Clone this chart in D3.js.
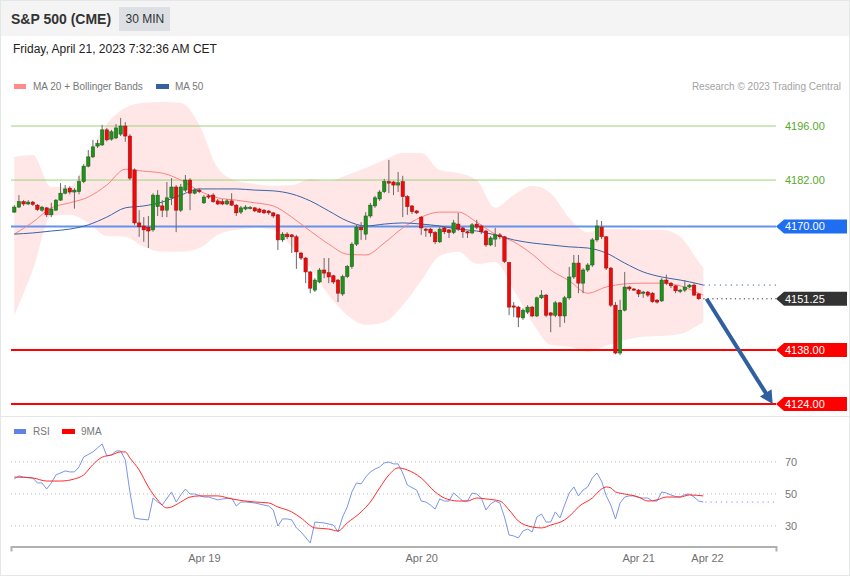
<!DOCTYPE html>
<html><head><meta charset="utf-8">
<script src="https://cdn.jsdelivr.net/npm/d3@7"></script>
<style>
html,body{margin:0;padding:0;background:#fff;}
svg{display:block;font-family:"Liberation Sans",Arial,sans-serif;}
</style></head><body>
<svg id="chart" width="850" height="576"></svg>
<script>
// ---------- DATA ----------
const title = "S&P 500 (CME)";
const interval = "30 MIN";
const dateText = "Friday, April 21, 2023 7:32:36 AM CET";
const copyright = "Research \u00A9 2023 Trading Central";

// 30-min candles (index 0..148)
const open  = [4173.7,4175.0,4176.4,4175.8,4176.3,4175.5,4174.2,4174.8,4173.0,4174.2,
 4176.8,4178.6,4179.9,4178.9,4179.0,4181.6,4185.6,4188.0,4190.8,4191.1,
 4195.0,4192.6,4192.9,4193.9,4196.0,4193.4,4184.6,4170.9,4170.1,4169.8,
 4169.1,4175.1,4175.3,4174.2,4177.4,4180.2,4174.2,4179.4,4182.0,4178.6,
 4179.4,4176.1,4177.9,4178.1,4176.6,4176.4,4175.8,4176.6,4175.5,4173.7,
 4174.5,4174.8,4174.8,4174.5,4174.2,4174.0,4173.5,4173.0,4166.5,4168.0,
 4167.8,4167.3,4163.1,4161.8,4158.2,4153.5,4155.6,4158.7,4158.0,4157.2,
 4156.1,4152.5,4157.0,4159.6,4165.4,4169.8,4168.0,4172.7,4175.3,4177.1,
 4179.0,4181.6,4181.5,4180.7,4181.6,4177.7,4175.3,4174.0,4172.4,4169.3,
 4169.3,4168.4,4166.0,4169.6,4169.1,4168.4,4170.6,4169.6,4168.6,4168.3,
 4170.6,4170.1,4168.8,4165.2,4166.7,4167.8,4167.3,4160.6,4149.4,4149.1,
 4146.3,4147.8,4149.1,4146.8,4151.5,4152.2,4147.6,4147.0,4150.2,4146.8,
 4151.5,4156.9,4160.5,4155.3,4158.7,4160.0,4166.5,4169.8,4167.3,4159.2,
 4149.6,4137.2,4148.3,4154.3,4153.8,4153.5,4152.7,4153.0,4152.7,4150.9,
 4150.7,4156.1,4155.3,4154.6,4153.3,4153.5,4154.3,4154.8,4152.5];
const high  = [4175.5,4178.1,4176.8,4176.8,4176.6,4175.8,4175.3,4175.0,4176.1,4177.1,
 4181.2,4180.7,4180.4,4179.9,4183.1,4186.1,4189.8,4192.4,4192.4,4196.3,
 4195.5,4195.0,4196.5,4198.1,4197.0,4193.9,4185.0,4174.2,4172.4,4172.7,
 4178.6,4179.4,4176.8,4181.5,4182.5,4180.7,4181.0,4183.3,4182.5,4179.9,
 4179.9,4178.1,4178.4,4178.6,4177.1,4177.1,4177.1,4178.6,4175.8,4175.3,
 4175.5,4175.3,4175.0,4174.8,4174.5,4174.2,4173.7,4173.2,4168.5,4168.5,
 4168.0,4167.8,4163.4,4162.1,4158.5,4156.6,4159.2,4161.8,4161.8,4157.5,
 4156.4,4157.5,4160.0,4165.9,4170.4,4171.1,4173.7,4176.1,4177.9,4179.4,
 4182.3,4187.2,4181.8,4184.1,4183.1,4178.1,4175.5,4174.2,4172.7,4169.6,
 4169.6,4168.8,4169.8,4170.1,4169.3,4171.7,4173.5,4169.8,4168.8,4170.9,
 4171.7,4170.4,4169.1,4167.5,4169.6,4168.3,4167.5,4160.8,4150.4,4149.4,
 4148.8,4149.6,4149.4,4151.8,4153.5,4152.5,4147.8,4150.7,4150.4,4152.0,
 4159.5,4162.6,4162.6,4159.2,4160.5,4167.0,4171.7,4171.4,4167.5,4159.5,
 4150.4,4151.0,4158.2,4154.6,4154.0,4153.8,4153.3,4153.3,4153.0,4151.2,
 4156.6,4157.5,4155.6,4154.8,4153.8,4156.1,4155.1,4155.3,4152.7];
const low   = [4173.5,4174.8,4175.3,4175.5,4175.3,4174.0,4173.8,4172.4,4172.4,4174.0,
 4176.6,4178.3,4178.3,4174.6,4178.3,4181.2,4185.3,4187.7,4190.3,4190.8,
 4192.0,4192.2,4192.6,4193.4,4191.9,4182.0,4170.4,4167.3,4166.0,4164.4,
 4168.6,4172.7,4172.4,4172.4,4175.5,4168.5,4173.7,4178.9,4174.2,4178.3,
 4178.6,4175.8,4177.1,4176.1,4175.5,4175.5,4175.5,4175.3,4172.7,4173.2,
 4174.2,4174.4,4173.7,4173.5,4173.2,4173.0,4172.2,4163.9,4166.0,4166.7,
 4163.1,4159.0,4161.3,4155.3,4152.7,4153.0,4155.3,4156.6,4155.3,4155.1,
 4150.4,4152.0,4156.6,4159.0,4164.9,4166.5,4166.5,4172.2,4174.8,4176.6,
 4178.6,4178.6,4178.1,4178.9,4172.4,4173.0,4173.2,4173.2,4167.8,4167.3,
 4167.3,4165.4,4165.7,4168.0,4167.0,4168.0,4168.8,4167.0,4167.0,4168.0,
 4169.3,4168.0,4164.7,4164.9,4164.7,4166.7,4160.5,4147.0,4146.5,4143.9,
 4145.8,4147.3,4146.5,4146.5,4151.2,4146.5,4142.6,4146.5,4143.9,4145.0,
 4151.0,4156.4,4152.7,4152.7,4158.2,4159.5,4166.0,4166.7,4158.7,4149.1,
 4136.9,4136.7,4148.0,4153.3,4153.3,4151.7,4151.5,4151.7,4150.2,4150.0,
 4150.4,4154.8,4154.0,4152.7,4152.7,4153.0,4154.0,4152.0,4151.0];
const close = [4175.0,4176.4,4175.8,4176.3,4175.7,4174.4,4175.0,4173.0,4174.5,4176.8,
 4178.6,4179.7,4178.9,4179.4,4181.6,4185.6,4188.0,4190.6,4191.5,4195.0,
 4192.4,4194.5,4195.5,4196.0,4193.4,4182.5,4170.9,4169.9,4169.1,4168.8,
 4178.1,4178.1,4174.2,4177.4,4180.2,4174.2,4180.2,4182.0,4178.6,4179.4,
 4179.0,4177.6,4177.6,4176.4,4175.8,4175.8,4176.6,4175.5,4173.5,4174.8,
 4175.0,4174.9,4174.0,4173.7,4173.5,4173.5,4172.7,4166.5,4168.0,4167.3,
 4167.3,4163.4,4161.8,4158.2,4154.0,4156.1,4158.7,4157.9,4156.9,4155.6,
 4152.7,4157.0,4159.6,4165.4,4169.8,4169.1,4172.7,4175.5,4177.4,4178.9,
 4181.6,4181.2,4180.7,4181.3,4177.7,4175.1,4173.8,4173.5,4169.6,4169.1,
 4168.3,4166.0,4169.3,4168.6,4168.4,4170.9,4169.3,4168.6,4168.3,4170.4,
 4169.8,4168.6,4165.2,4167.0,4167.8,4167.3,4160.9,4149.1,4149.1,4146.5,
 4148.3,4149.1,4146.8,4151.5,4152.2,4147.0,4147.0,4150.2,4146.8,4151.5,
 4156.9,4160.5,4155.3,4158.7,4160.0,4166.5,4170.1,4167.3,4159.2,4149.6,
 4137.2,4148.3,4154.3,4153.8,4153.5,4152.5,4153.0,4152.2,4150.5,4150.4,
 4156.1,4155.3,4154.6,4153.3,4153.5,4154.3,4154.8,4152.2,4151.25];

// Indicators read every 4th bar
const bandIdx = [0,4,8,12,16,20,24,28,32,36,40,44,48,52,56,60,64,68,72,76,80,84,88,92,96,100,104,108,112,116,120,124,128,132,136,140,144,148,149];
const bbUpper = [4188.0,4188.5,4180.2,4180.2,4188.5,4196.5,4200.7,4202.0,4202.2,4202.0,4196.3,4185.1,4181.8,4181.0,4180.5,4180.7,4182.3,4181.8,4183.3,4185.1,4187.2,4189.0,4189.0,4184.6,4183.8,4182.0,4174.8,4178.1,4180.5,4178.6,4172.2,4168.5,4169.3,4169.3,4169.1,4169.1,4167.3,4160.8,4159.2];
const bbLower = [4147.0,4158.7,4172.7,4173.0,4170.9,4167.5,4167.3,4164.7,4163.4,4163.4,4164.4,4167.8,4169.1,4169.6,4169.1,4164.7,4159.2,4152.2,4147.0,4144.5,4145.2,4149.6,4155.9,4162.3,4163.4,4160.3,4160.8,4153.5,4145.2,4139.3,4138.8,4137.5,4139.1,4140.6,4141.4,4141.6,4142.1,4144.5,4145.2];
const ma20 = [4168.0,4171.1,4174.8,4176.1,4177.6,4180.7,4184.8,4184.3,4183.8,4182.0,4179.2,4177.4,4176.8,4176.1,4175.3,4172.4,4168.8,4165.4,4162.8,4162.6,4165.7,4169.6,4172.4,4173.7,4173.7,4171.1,4168.0,4166.0,4162.8,4158.7,4155.9,4152.7,4154.3,4155.1,4155.3,4155.3,4154.6,4152.7,4152.2];
const ma50 = [4168.0,4168.3,4168.8,4169.3,4170.4,4172.4,4174.8,4175.3,4176.3,4178.1,4179.7,4179.7,4179.7,4179.4,4179.2,4178.4,4176.6,4174.0,4171.4,4170.1,4170.6,4170.9,4170.6,4170.1,4169.3,4168.8,4167.8,4166.5,4165.7,4165.2,4164.7,4164.4,4163.1,4160.5,4158.2,4156.9,4156.1,4155.1,4154.8];

// Key levels
const levelValues = [4196, 4182, 4170, 4138, 4124];
const levelTypes  = ["resistance","resistance","pivot","support","support"];
const lastPrice = 4151.25;
const arrowFrom = {i:149.7, p:4151.25};
const arrowTo   = {i:164.0, p:4124};

// RSI panel
const rsiIdx = [0,1,2,4,5,6,7,8,9,11,12,13,14,15,17,18,19,20,21,22,23,24,25,26,27,29,30,31,32,34,35,36,37,38,39,41,42,44,45,47,48,49,50,52,54,55,56,57,58,59,60,61,62,64,65,67,69,70,71,72,73,74,75,76,77,78,79,80,81,82,83,84,85,86,87,88,89,90,91,92,93,94,95,96,97,98,99,100,101,102,103,104,105,106,107,108,109,110,111,112,113,114,115,116,117,118,119,120,121,122,123,124,125,126,127,128,129,130,131,132,133,134,135,136,137,138,139,140,141,142,143,144,145,146,147,148,149];
const rsiVal = [59.4,61.3,60.6,60.0,56.9,56.9,53.1,56.9,61.9,64.4,63.8,63.8,66.9,73.1,76.3,78.8,81.3,73.8,74.4,76.9,76.9,71.3,51.3,35.0,34.4,33.8,47.5,45.0,43.1,51.3,45.0,49.4,53.1,50.0,50.0,48.1,48.1,46.3,46.9,47.5,42.5,45.0,45.0,44.4,43.1,42.5,40.0,30.0,34.4,34.4,33.8,28.8,26.3,19.4,32.5,31.9,30.6,26.3,35.6,41.9,51.3,56.9,56.3,60.6,63.8,65.6,66.9,69.4,70.0,68.8,68.8,63.1,55.6,54.0,52.5,45.6,45.0,43.1,40.6,46.9,45.6,45.6,50.6,48.1,45.6,45.6,50.6,50.0,47.5,40.0,43.8,45.6,44.4,35.6,24.4,23.8,22.5,26.9,28.1,26.3,35.6,37.5,32.5,32.5,38.8,35.0,43.1,50.6,54.4,48.8,52.5,54.4,60.0,63.1,58.0,49.0,43.1,34.4,44.4,48.1,48.8,48.8,47.8,47.5,47.5,45.6,45.6,51.3,50.6,49.4,48.4,48.1,49.7,50.0,48.1,45.6,45.0];
const ma9Idx = [0,4,7,10,13,15,17,19,21,23,24,25,27,29,31,33,34,36,38,40,44,47,52,55,57,60,62,65,68,70,72,75,77,79,81,83,85,88,91,93,96,98,100,102,105,107,109,112,114,116,119,121,122,125,127,128,129,130,132,135,137,139,141,144,146,149];
const ma9Val = [60.6,60.0,58.1,58.1,59.4,61.9,68.4,73.0,74.4,76.3,76.3,72.5,65.0,54.4,46.3,41.3,41.9,45.0,48.1,48.8,48.8,46.9,45.0,44.4,41.9,38.8,35.0,28.8,28.1,26.9,31.9,38.8,45.0,53.8,61.9,66.3,65.0,60.0,51.3,47.5,45.6,45.6,47.5,46.9,45.6,40.0,33.1,29.4,28.8,30.6,33.8,38.8,41.9,47.5,53.1,54.4,53.8,51.3,50.0,48.1,45.6,46.3,48.1,48.1,49.4,48.8];
const rsiTicks = [70, 50, 30];

// Time axis (bar positions of day starts)
const dayTickPos = [41.0, 88.0, 134.9, 149.8];
const dayTickLabels = ["Apr 19", "Apr 20", "Apr 21", "Apr 22"];

// ---------- DRAW ----------
const svg = d3.select("#chart");
const x = d3.scaleLinear().domain([0, 148]).range([14.3, 698.7]);
const y = d3.scaleLinear().domain([4124, 4196]).range([404, 126]);
const yR = d3.scaleLinear().domain([30, 70]).range([526, 462]);
const L = 11, R = 776;
const xAxisScale = d3.scaleLinear().domain([x.invert(L), x.invert(R)]).range([L, R]);

// frame & header
svg.append("rect").attr("x",0.5).attr("y",0.5).attr("width",849).attr("height",575)
  .attr("fill","#fff").attr("stroke","#e4e6e8");
svg.append("rect").attr("x",1).attr("y",1).attr("width",848).attr("height",35).attr("fill","#f4f4f4");
svg.append("text").attr("x",11).attr("y",24).attr("font-size",14).attr("font-weight","bold")
  .attr("fill","#333").text(title);
svg.append("rect").attr("x",119).attr("y",7).attr("width",51).attr("height",24).attr("fill","#dcdfe4");
svg.append("text").attr("x",125.5).attr("y",23).attr("font-size",12).attr("fill","#333").text(interval);
svg.append("text").attr("x",13).attr("y",53).attr("font-size",12).attr("fill","#222").text(dateText);

// legend
svg.append("rect").attr("x",14).attr("y",84).attr("width",12).attr("height",5).attr("fill","#ff8a8a");
svg.append("text").attr("x",33).attr("y",90).attr("font-size",10).attr("fill","#777").text("MA 20 + Bollinger Bands");
svg.append("rect").attr("x",156).attr("y",84).attr("width",13).attr("height",5).attr("fill","#3561a3");
svg.append("text").attr("x",175).attr("y",90).attr("font-size",10).attr("fill","#777").text("MA 50");
svg.append("text").attr("x",841).attr("y",90).attr("font-size",10).attr("fill","#a3a3a3")
  .attr("text-anchor","end").text(copyright);

// Bollinger band
const bandData = bandIdx.map((d,k)=>({i:d, up:bbUpper[k], lo:bbLower[k], m20:ma20[k], m50:ma50[k]}));
svg.append("path").datum(bandData)
  .attr("d", d3.area().x(d=>x(d.i)).y0(d=>y(d.lo)).y1(d=>y(d.up)).curve(d3.curveMonotoneX))
  .attr("fill","#ffe7e7");

// level lines
const levelColor = {resistance:"#9bd47a", pivot:"#6593ea", support:"#ff0000"};
const levelWidth = {resistance:1, pivot:2, support:2};
levelValues.forEach((v,k)=>{
  const t = levelTypes[k];
  svg.append("line").attr("x1",L).attr("x2",R).attr("y1",y(v)).attr("y2",y(v))
    .attr("stroke",levelColor[t]).attr("stroke-width",levelWidth[t]);
});

// MA lines
svg.append("path").datum(bandData)
  .attr("d", d3.line().x(d=>x(d.i)).y(d=>y(d.m20)).curve(d3.curveMonotoneX))
  .attr("fill","none").attr("stroke","#ff8080").attr("stroke-width",1);
svg.append("path").datum(bandData)
  .attr("d", d3.line().x(d=>x(d.i)).y(d=>y(d.m50)).curve(d3.curveMonotoneX))
  .attr("fill","none").attr("stroke","#3a63a6").attr("stroke-width",1);

// dotted extensions
const lastBand = bandData[bandData.length-1];
svg.append("line").attr("x1",x(lastBand.i)).attr("x2",R).attr("y1",y(lastBand.m50)).attr("y2",y(lastBand.m50))
  .attr("stroke","#3a63a6").attr("stroke-width",1).attr("stroke-dasharray","1.2,4.3");
svg.append("line").attr("x1",x(lastBand.i)).attr("x2",R).attr("y1",y(lastPrice)).attr("y2",y(lastPrice))
  .attr("stroke","#333").attr("stroke-width",1).attr("stroke-dasharray","1.2,3.3");

// candles
const bars = d3.range(open.length).map(i=>({i, o:open[i], h:high[i], l:low[i], c:close[i]}));
const g = svg.append("g");
g.selectAll("line.w").data(bars).join("line").attr("class","w")
  .attr("x1",d=>x(d.i)).attr("x2",d=>x(d.i)).attr("y1",d=>y(d.h)).attr("y2",d=>y(d.l))
  .attr("stroke","#6f6666").attr("stroke-width",1);
g.selectAll("rect.b").data(bars).join("rect").attr("class","b")
  .attr("x",d=>x(d.i)-1.7).attr("width",3.4)
  .attr("y",d=>y(Math.max(d.o,d.c)))
  .attr("height",d=>Math.max(1.2, Math.abs(y(d.o)-y(d.c))))
  .attr("fill",d=>d.c>=d.o?"#21901f":"#ee0a0a")
  .attr("stroke",d=>d.c>=d.o?"#135c13":"#9a0a0a").attr("stroke-width",0.5);

// forecast arrow
(function(){
  const x0=x(arrowFrom.i), y0=y(arrowFrom.p), x1=x(arrowTo.i), y1=y(arrowTo.p);
  const dx=x1-x0, dy=y1-y0, len=Math.hypot(dx,dy), ux=dx/len, uy=dy/len;
  const hl=13, hw=6.8;
  const bx=x1-ux*hl, by=y1-uy*hl;
  svg.append("line").attr("x1",x0).attr("y1",y0).attr("x2",bx+ux*2).attr("y2",by+uy*2)
    .attr("stroke","#2f5f9f").attr("stroke-width",4);
  svg.append("path").attr("d",`M${x1},${y1}L${bx-uy*hw},${by+ux*hw}L${bx+uy*hw},${by-ux*hw}Z`)
    .attr("fill","#2f5f9f");
})();

// right labels
function boxLabel(v, fill){
  const yy=y(v);
  svg.append("path").attr("d",`M${R},${yy}L${R+8},${yy-7}L847,${yy-7}L847,${yy+7}L${R+8},${yy+7}Z`).attr("fill",fill);
  svg.append("text").attr("x",785).attr("y",yy).attr("dy","0.36em").attr("font-size",11)
    .attr("fill","#fff").text(d3.format(".2f")(v));
}
levelValues.forEach((v,k)=>{
  const t=levelTypes[k];
  if(t==="resistance"){
    svg.append("text").attr("x",785).attr("y",y(v)).attr("dy","0.36em").attr("font-size",11)
      .attr("fill","#58a82b").text(d3.format(".2f")(v));
  } else boxLabel(v, t==="pivot" ? "#1f6ef2" : "#ff0000");
});
boxLabel(lastPrice, "#333333");

// panel separator
svg.append("line").attr("x1",1).attr("x2",849).attr("y1",416.5).attr("y2",416.5).attr("stroke","#e4e6e8");

// RSI legend
svg.append("rect").attr("x",14).attr("y",429).attr("width",12).attr("height",5).attr("fill","#5f82e6");
svg.append("text").attr("x",33).attr("y",435).attr("font-size",10).attr("fill","#777").text("RSI");
svg.append("rect").attr("x",62).attr("y",429).attr("width",13).attr("height",5).attr("fill","#ff0000");
svg.append("text").attr("x",81).attr("y",435).attr("font-size",10).attr("fill","#777").text("9MA");

// RSI grid
rsiTicks.forEach(t=>{
  svg.append("line").attr("x1",L).attr("x2",R).attr("y1",yR(t)).attr("y2",yR(t))
    .attr("stroke","#bdbdbd").attr("stroke-width",1).attr("stroke-dasharray","1,3");
  svg.append("text").attr("x",785).attr("y",yR(t)).attr("dy","0.36em").attr("font-size",11)
    .attr("fill","#777").text(t);
});

// RSI lines
const rsiData = rsiIdx.map((d,k)=>({i:d, v:rsiVal[k]}));
const ma9Data = ma9Idx.map((d,k)=>({i:d, v:ma9Val[k]}));
svg.append("path").datum(rsiData)
  .attr("d", d3.line().x(d=>x(d.i)).y(d=>yR(d.v)))
  .attr("fill","none").attr("stroke","#7b95e8").attr("stroke-width",1);
svg.append("path").datum(ma9Data)
  .attr("d", d3.line().x(d=>x(d.i)).y(d=>yR(d.v)).curve(d3.curveMonotoneX))
  .attr("fill","none").attr("stroke","#ff2a2a").attr("stroke-width",1);
const lastR = rsiData[rsiData.length-1];
svg.append("line").attr("x1",x(lastR.i)+2).attr("x2",R).attr("y1",yR(lastR.v)).attr("y2",yR(lastR.v))
  .attr("stroke","#7b95e8").attr("stroke-width",1).attr("stroke-dasharray","1.2,4");

// time axis
const axis = d3.axisBottom(xAxisScale).tickValues(dayTickPos)
  .tickFormat((d,k)=>dayTickLabels[k]).tickSizeInner(0).tickSizeOuter(5).tickPadding(8);
const ax = svg.append("g").attr("transform","translate(0,546.5)").call(axis);
ax.select(".domain").attr("stroke","#b0b0b0").attr("stroke-width",2);
ax.selectAll("text").attr("font-size",11).attr("fill","#707070")
  .attr("font-family","Liberation Sans, Arial, sans-serif");
</script>
</body></html>
